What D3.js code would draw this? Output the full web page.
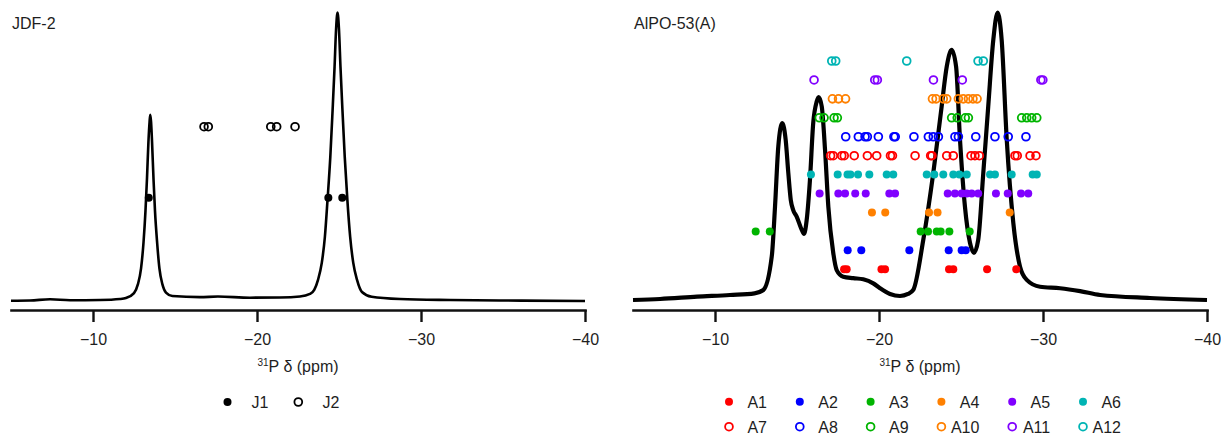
<!DOCTYPE html>
<html>
<head>
<meta charset="utf-8">
<script src="https://cdn.jsdelivr.net/npm/d3@7"></script>
<style>
  body { margin: 0; background: #fff; }
  text { font-family: "Liberation Sans", Arial, Helvetica, sans-serif; }
</style>
</head>
<body>
<svg id="chart" width="1221" height="435"></svg>
<script>
// ---------------- DATA ----------------
const xDomain = [-5, -40];
const tickValues = [-10, -20, -30, -40];
const tickLabels = ["\u221210", "\u221220", "\u221230", "\u221240"];
const panelTitles = ["JDF-2", "AlPO-53(A)"];

// spectrum: [ppm, intensity (tallest peak = 100)]
const jdfSpectrum = [
  [-5.0, -0.24], [-6.16, -0.17], [-7.38, 0.24], [-8.6, -0.1], [-10.43, 0], [-11.65, 0.35],
  [-12.01, 0.7], [-12.5, 2.4], [-12.74, 5.5], [-12.93, 11], [-13.08, 20], [-13.2, 31],
  [-13.29, 42], [-13.38, 55], [-13.45, 62], [-13.49, 64.4], [-13.54, 62], [-13.6, 55],
  [-13.69, 42], [-13.78, 31], [-13.91, 20], [-14.05, 11], [-14.23, 5.5], [-14.45, 2.6],
  [-14.84, 1.4], [-16.52, 1.0], [-17.62, 1.2], [-19.57, 0.8], [-21.4, 0.87], [-22.62, 1.2],
  [-23.23, 2.1], [-23.49, 3.5], [-23.72, 7.0], [-23.95, 12.9], [-24.14, 22], [-24.3, 34.8],
  [-24.47, 49.8], [-24.61, 66.1], [-24.73, 81.1], [-24.82, 94.0], [-24.91, 100], [-25.0, 94.0],
  [-25.09, 81.1], [-25.21, 66.1], [-25.35, 49.8], [-25.51, 34.8], [-25.68, 22], [-25.87, 12.9],
  [-26.1, 7.0], [-26.4, 2.8], [-26.99, 1.15], [-28.72, 0.35], [-31.77, 0], [-34.82, -0.17],
  [-40.0, -0.35]
];

const alpoSpectrum = [
  [-5.0, 0], [-6.65, 0.35], [-8.9, 1.15], [-10.91, 1.74], [-12.41, 2.33], [-12.95, 3.48],
  [-13.46, 15.1], [-13.66, 32.5], [-13.86, 53.4], [-14.1, 61.5], [-14.31, 55.7], [-14.47, 44.2],
  [-14.62, 34.8], [-14.77, 31.3], [-14.98, 29.0], [-15.29, 24.4], [-15.43, 23.0], [-15.59, 27.8],
  [-15.79, 41.8], [-15.99, 61.6], [-16.2, 69.0], [-16.32, 70.6], [-16.51, 67.3], [-16.71, 52.2],
  [-16.91, 32.5], [-17.21, 16.4], [-17.42, 10.4], [-17.82, 8.1], [-18.43, 7.6], [-19.04, 7.2],
  [-19.65, 5.8], [-20.06, 4.1], [-20.67, 2.1], [-21.28, 1.4], [-21.77, 2.1], [-22.09, 3.5],
  [-22.7, 20.9], [-23.31, 44.2], [-23.82, 67.3], [-24.13, 81.2], [-24.43, 87.0], [-24.7, 81.2],
  [-24.94, 55.7], [-25.24, 32.5], [-25.55, 19.8], [-25.79, 16.4], [-26.05, 20.9], [-26.36, 44.2],
  [-26.66, 67.3], [-26.97, 90.5], [-27.23, 100], [-27.48, 90.5], [-27.79, 55.7], [-28.19, 26.8],
  [-28.6, 11.6], [-29.01, 7.0], [-29.82, 4.6], [-31.04, 4.1], [-32.26, 3.1], [-33.48, 1.74],
  [-36.52, 0.7], [-40.0, 0]
];

// calculated shifts (ppm)
const jdfSeries = ["J1", "J2"];
const J1 = [-13.4, -24.35, -25.2];
const J2 = [-16.77, -17.03, -20.84, -21.2, -22.32];

const alpoSeries = ["A1", "A2", "A3", "A4", "A5", "A6", "A7", "A8", "A9", "A10", "A11", "A12"];
const A1 = [-17.87, -18.03, -20.15, -20.37, -24.27, -24.53, -26.59, -28.37];
const A2 = [-18.09, -18.92, -21.85, -24.25, -25.04, -25.29];
const A3 = [-12.48, -13.34, -22.54, -22.99, -23.52, -23.76, -24.29, -25.53];
const A4 = [-19.57, -20.38, -23.05, -23.57, -27.97];
const A5 = [-16.38, -17.52, -17.93, -18.55, -19.19, -20.63, -20.98, -24.19, -24.63, -25.04,
            -25.35, -25.65, -26.05, -27.13, -27.85, -28.66, -29.1];
const A6 = [-15.85, -17.48, -18.08, -18.26, -18.72, -19.41, -20.47, -20.87, -22.91, -23.37,
            -23.92, -24.53, -24.9, -25.35, -26.77, -27.07, -28.09, -29.37, -29.62];
const A7 = [-17.05, -17.21, -17.73, -17.88, -18.49, -19.29, -19.86, -20.7, -20.82, -22.2,
            -23.15, -23.23, -24.13, -24.53, -25.61, -25.85, -26.12, -28.29, -28.43, -29.21, -29.57];
const A8 = [-17.97, -18.74, -19.15, -19.29, -19.96, -20.91, -20.99, -22.13, -23.01, -23.31,
            -23.62, -24.63, -24.84, -25.9, -27.07, -27.88, -28.96];
const A9 = [-16.36, -16.65, -17.26, -17.46, -24.43, -24.77, -25.26, -25.45, -28.7, -29.01, -29.31, -29.62];
const A10 = [-17.16, -17.53, -17.96, -23.26, -23.48, -23.92, -24.13, -24.84, -25.14, -25.45, -25.73, -25.98];
const A11 = [-16.04, -19.74, -19.9, -23.32, -25.08, -29.87, -29.99];
const A12 = [-17.12, -17.36, -21.69, -26.04, -26.36];

// ---------------- STYLE ----------------
const textColor = "#1e1e1e";
const fontFamily = '"Liberation Sans", Arial, Helvetica, sans-serif';
const jdfColors = ["#000000", "#000000"];
const jdfFilled = [true, false];
const alpoColors = ["#ff0000", "#0000ff", "#00b400", "#ff8000", "#8000ff", "#00b4b4",
                    "#ff0000", "#0000ff", "#00b400", "#ff8000", "#8000ff", "#00b4b4"];
const alpoFilled = alpoSeries.map((d, i) => i < 6);

const svg = d3.select("#chart");
svg.append("rect").attr("width", 1221).attr("height", 435).attr("fill", "#fff");

function drawPanel(opts) {
  const g = svg.append("g");
  const x = d3.scaleLinear().domain(xDomain).range(opts.xRange);
  const y = d3.scaleLinear().domain([0, 100]).range([300, 12.5]);
  const row = d3.scalePoint().domain(opts.series).range(opts.rowRange);

  // axis
  const axis = d3.axisBottom(x)
    .tickValues(tickValues)
    .tickFormat((d, i) => tickLabels[i])
    .tickSize(12).tickSizeOuter(0).tickPadding(11.5);
  const ag = g.append("g").attr("transform", "translate(0,310)").call(axis);
  ag.attr("font-size", 16).attr("font-family", fontFamily).attr("color", textColor);
  ag.select(".domain").attr("stroke", "#111").attr("stroke-width", 2.6).attr("stroke-linecap", "square");
  ag.selectAll(".tick line").attr("stroke", "#111").attr("stroke-width", 2.4);

  // axis title
  const cx = (opts.xRange[0] + opts.xRange[1]) / 2;
  const t = g.append("text").attr("x", cx).attr("y", 371.5)
    .attr("text-anchor", "middle").attr("font-size", 16).attr("fill", textColor);
  t.append("tspan").attr("font-size", 10).attr("dy", -6).text("31");
  t.append("tspan").attr("dy", 6).text("P \u03b4 (ppm)");

  // panel title
  g.append("text").attr("x", opts.xRange[0] + 1).attr("y", 28.5)
    .attr("font-size", 16).attr("fill", textColor).text(opts.title);

  // spectrum
  const line = d3.line().x(d => x(d[0])).y(d => y(d[1])).curve(d3.curveMonotoneX);
  g.append("path").datum(opts.spectrum)
    .attr("fill", "none").attr("stroke", "#000")
    .attr("stroke-width", opts.lineWidth).attr("stroke-linejoin", "round")
    .attr("d", line);

  // markers
  opts.series.forEach((name, i) => {
    const vals = opts.values[i];
    const filled = opts.filled[i];
    const col = opts.colors[i];
    g.append("g").selectAll("circle").data(vals).join("circle")
      .attr("cx", d => x(d)).attr("cy", row(name))
      .attr("r", filled ? 4 : 3.9)
      .attr("fill", filled ? col : "none")
      .attr("stroke", filled ? "none" : col)
      .attr("stroke-width", filled ? 0 : 1.8);
  });

  // legend
  opts.series.forEach((name, i) => {
    const perRow = opts.legendPerRow;
    const c = i % perRow, r = Math.floor(i / perRow);
    const mx = opts.legendMarkerX + c * opts.legendStep;
    const tx = opts.legendTextEnd + c * opts.legendStep;
    const my = opts.legendY[r];
    const filled = opts.filled[i];
    const col = opts.colors[i];
    g.append("circle").attr("cx", mx).attr("cy", my)
      .attr("r", filled ? 4 : 3.9)
      .attr("fill", filled ? col : "none")
      .attr("stroke", filled ? "none" : col)
      .attr("stroke-width", filled ? 0 : 1.8);
    g.append("text").attr("x", tx).attr("y", my + 5.8)
      .attr("text-anchor", "end").attr("font-size", 16).attr("fill", textColor)
      .text(name);
  });
}

drawPanel({
  title: panelTitles[0], xRange: [11, 585], spectrum: jdfSpectrum, lineWidth: 2.6,
  series: jdfSeries, values: [J1, J2], filled: jdfFilled, colors: jdfColors,
  rowRange: [197.7, 126.7],
  legendPerRow: 2, legendMarkerX: 227.5, legendTextEnd: 268.5, legendStep: 70.8, legendY: [402]
});

drawPanel({
  title: panelTitles[1], xRange: [633, 1207], spectrum: alpoSpectrum, lineWidth: 4.2,
  series: alpoSeries, values: [A1, A2, A3, A4, A5, A6, A7, A8, A9, A10, A11, A12],
  filled: alpoFilled, colors: alpoColors,
  rowRange: [269.3, 61],
  legendPerRow: 6, legendMarkerX: 729, legendTextEnd: 767, legendStep: 70.8, legendY: [401.7, 426.7]
});
</script>
</body>
</html>
